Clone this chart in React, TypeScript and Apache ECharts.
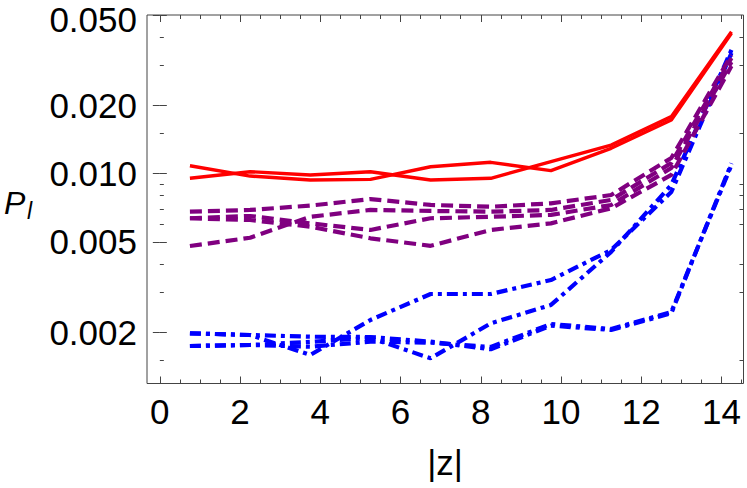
import React, { useEffect, useRef } from "react";
import * as echarts from "echarts";

// |z| sample positions
const zValues = [0.75, 2.25, 3.75, 5.25, 6.75, 8.25, 9.75, 11.25, 12.75, 14.25];

// red solid
const redA = [0.01084, 0.00976, 0.00938, 0.00944, 0.01073, 0.01122, 0.01031, 0.01293, 0.01724, 0.04153];
const redB = [0.00954, 0.0102, 0.00987, 0.0102, 0.00938, 0.00954, 0.01129, 0.01337, 0.01783, 0.0422];

// purple dashed
const purpleA = [0.0068, 0.00692, 0.00723, 0.00773, 0.00728, 0.00715, 0.0074, 0.00805, 0.01172, 0.03332];
const purpleB = [0.0048, 0.00522, 0.00646, 0.00692, 0.00685, 0.0068, 0.00692, 0.00766, 0.01114, 0.03233];
const purpleC = [0.00636, 0.00651, 0.00604, 0.00565, 0.00636, 0.00646, 0.00658, 0.00728, 0.01059, 0.03105];
const purpleD = [0.00636, 0.00625, 0.00584, 0.00519, 0.00481, 0.00565, 0.00604, 0.00704, 0.00987, 0.0298];

// blue dash-dotted
const blueA = [0.00198, 0.001946, 0.001589, 0.002267, 0.00295, 0.00295, 0.0034, 0.00461, 0.0083, 0.034];
const blueB = [0.00198, 0.001946, 0.001913, 0.001907, 0.001819, 0.001684, 0.00214, 0.002048, 0.002426, 0.01111];
const blueC = [0.001741, 0.001759, 0.001814, 0.001889, 0.001537, 0.00219, 0.00264, 0.00452, 0.00892, 0.0351];
const blueD = [0.001741, 0.001759, 0.001728, 0.001819, 0.0018, 0.001723, 0.002177, 0.002069, 0.002457, 0.01092];

// ticks
const xTickLabels = [0, 2, 4, 6, 8, 10, 12, 14];
const xMinorTicks = [0.5, 1, 1.5, 2.5, 3, 3.5, 4.5, 5, 5.5, 6.5, 7, 7.5, 8.5, 9, 9.5, 10.5, 11, 11.5, 12.5, 13, 13.5, 14.5];
const yTickLabels = [0.002, 0.005, 0.01, 0.02, 0.05];
const yMinorTicks = [0.0015, 0.003, 0.004, 0.006, 0.007, 0.008, 0.009, 0.015, 0.03, 0.04];

const X_MIN = -0.32;
const X_MAX = 14.55;
const Y_MIN = 0.00119;
const Y_MAX = 0.05;

const FONT = "'Liberation Sans', Arial, Helvetica, sans-serif";

export default function App() {
  const ref = useRef<HTMLDivElement>(null);

  useEffect(() => {
    document.body.style.margin = "0";
    if (!ref.current) return;
    const chart = echarts.init(ref.current, undefined, { renderer: "svg" });

    const lg = (v: number) => Math.log10(v);
    const LMIN = lg(Y_MIN);
    const LMAX = lg(Y_MAX);

    const mk = (arr: number[]) => zValues.map((z, i) => [z, arr[i]]);

    const xBase = (pos: "bottom" | "top", ticks: number[], len: number, labels: boolean) => ({
      type: "value",
      min: X_MIN,
      max: X_MAX,
      position: pos,
      axisLine: { show: false },
      splitLine: { show: false },
      axisTick: {
        show: true,
        inside: true,
        length: len,
        customValues: ticks,
        lineStyle: { color: "#444", width: 1 },
      },
      axisLabel: labels
        ? {
            show: true,
            customValues: xTickLabels,
            fontSize: 35,
            fontFamily: FONT,
            color: "#000",
            margin: 10,
            formatter: (v: number) => String(Math.round(v)),
          }
        : { show: false },
    });

    const yBase = (pos: "left" | "right", ticks: number[], len: number, labels: boolean) => ({
      type: "value",
      min: LMIN,
      max: LMAX,
      position: pos,
      axisLine: { show: false },
      splitLine: { show: false },
      axisTick: {
        show: true,
        inside: true,
        length: len,
        customValues: ticks.map(lg),
        lineStyle: { color: "#444", width: 1 },
      },
      axisLabel: labels
        ? {
            show: true,
            customValues: yTickLabels.map(lg),
            fontSize: 35,
            fontFamily: FONT,
            color: "#000",
            margin: 10,
            formatter: (v: number) => {
              const s = Math.pow(10, v).toFixed(3);
              return v > LMAX - 0.01 ? "{top|" + s + "}" : s;
            },
            rich: {
              top: {
                fontSize: 35,
                fontFamily: FONT,
                color: "#000",
                padding: [8, 0, 0, 0],
              },
            },
          }
        : { show: false },
    });

    const redStyle = (data: number[][]) => ({
      type: "line",
      data,
      xAxisIndex: 0,
      yAxisIndex: 0,
      symbol: "none",
      lineStyle: { color: "#ff0000", width: 3.4, type: "solid" },
      z: 4,
    });
    const purpleStyle = (data: number[][]) => ({
      type: "line",
      data,
      xAxisIndex: 0,
      yAxisIndex: 0,
      symbol: "none",
      lineStyle: { color: "#800080", width: 4.2, type: [12, 6], cap: "butt" },
      z: 3,
    });
    const blueStyle = (data: number[][]) => ({
      type: "line",
      data,
      xAxisIndex: 0,
      yAxisIndex: 0,
      symbol: "none",
      lineStyle: { color: "#0000ff", width: 4.2, type: [11, 5, 4, 5], cap: "butt" },
      z: 2,
    });

    chart.setOption({
      animation: false,
      backgroundColor: "#ffffff",
      grid: {
        left: 147,
        right: 3.5,
        top: 15,
        bottom: 104.5,
        show: true,
        borderColor: "#444",
        borderWidth: 1,
        backgroundColor: "transparent",
      },
      xAxis: [
        xBase("bottom", xTickLabels, 7, true),
        xBase("bottom", xMinorTicks, 4, false),
        xBase("top", xTickLabels, 7, false),
        xBase("top", xMinorTicks, 4, false),
      ],
      yAxis: [
        {
          type: "log",
          min: Y_MIN,
          max: Y_MAX,
          show: false,
        },
        yBase("left", yTickLabels, 7, true),
        yBase("left", yMinorTicks, 4, false),
        yBase("right", yTickLabels, 7, false),
        yBase("right", yMinorTicks, 4, false),
      ],
      graphic: [
        {
          type: "text",
          x: 445,
          y: 462,
          style: {
            text: "|z|",
            fontSize: 35,
            fontFamily: FONT,
            fill: "#000",
            align: "center",
            verticalAlign: "middle",
          },
        },
        {
          type: "text",
          x: 4,
          y: 203,
          style: {
            text: "P",
            fontSize: 32,
            fontStyle: "italic",
            fontFamily: FONT,
            fill: "#000",
            align: "left",
            verticalAlign: "middle",
          },
        },
        {
          type: "text",
          x: 27,
          y: 211,
          style: {
            text: "l",
            fontSize: 23,
            fontStyle: "italic",
            fontFamily: FONT,
            fill: "#000",
            align: "left",
            verticalAlign: "middle",
          },
        },
      ],
      series: [
        blueStyle(mk(blueA)),
        blueStyle(mk(blueB)),
        blueStyle(mk(blueC)),
        blueStyle(mk(blueD)),
        purpleStyle(mk(purpleA)),
        purpleStyle(mk(purpleB)),
        purpleStyle(mk(purpleC)),
        purpleStyle(mk(purpleD)),
        redStyle(mk(redA)),
        redStyle(mk(redB)),
      ],
    });

    return () => chart.dispose();
  }, []);

  return <div ref={ref} style={{ width: 747, height: 488 }} />;
}
